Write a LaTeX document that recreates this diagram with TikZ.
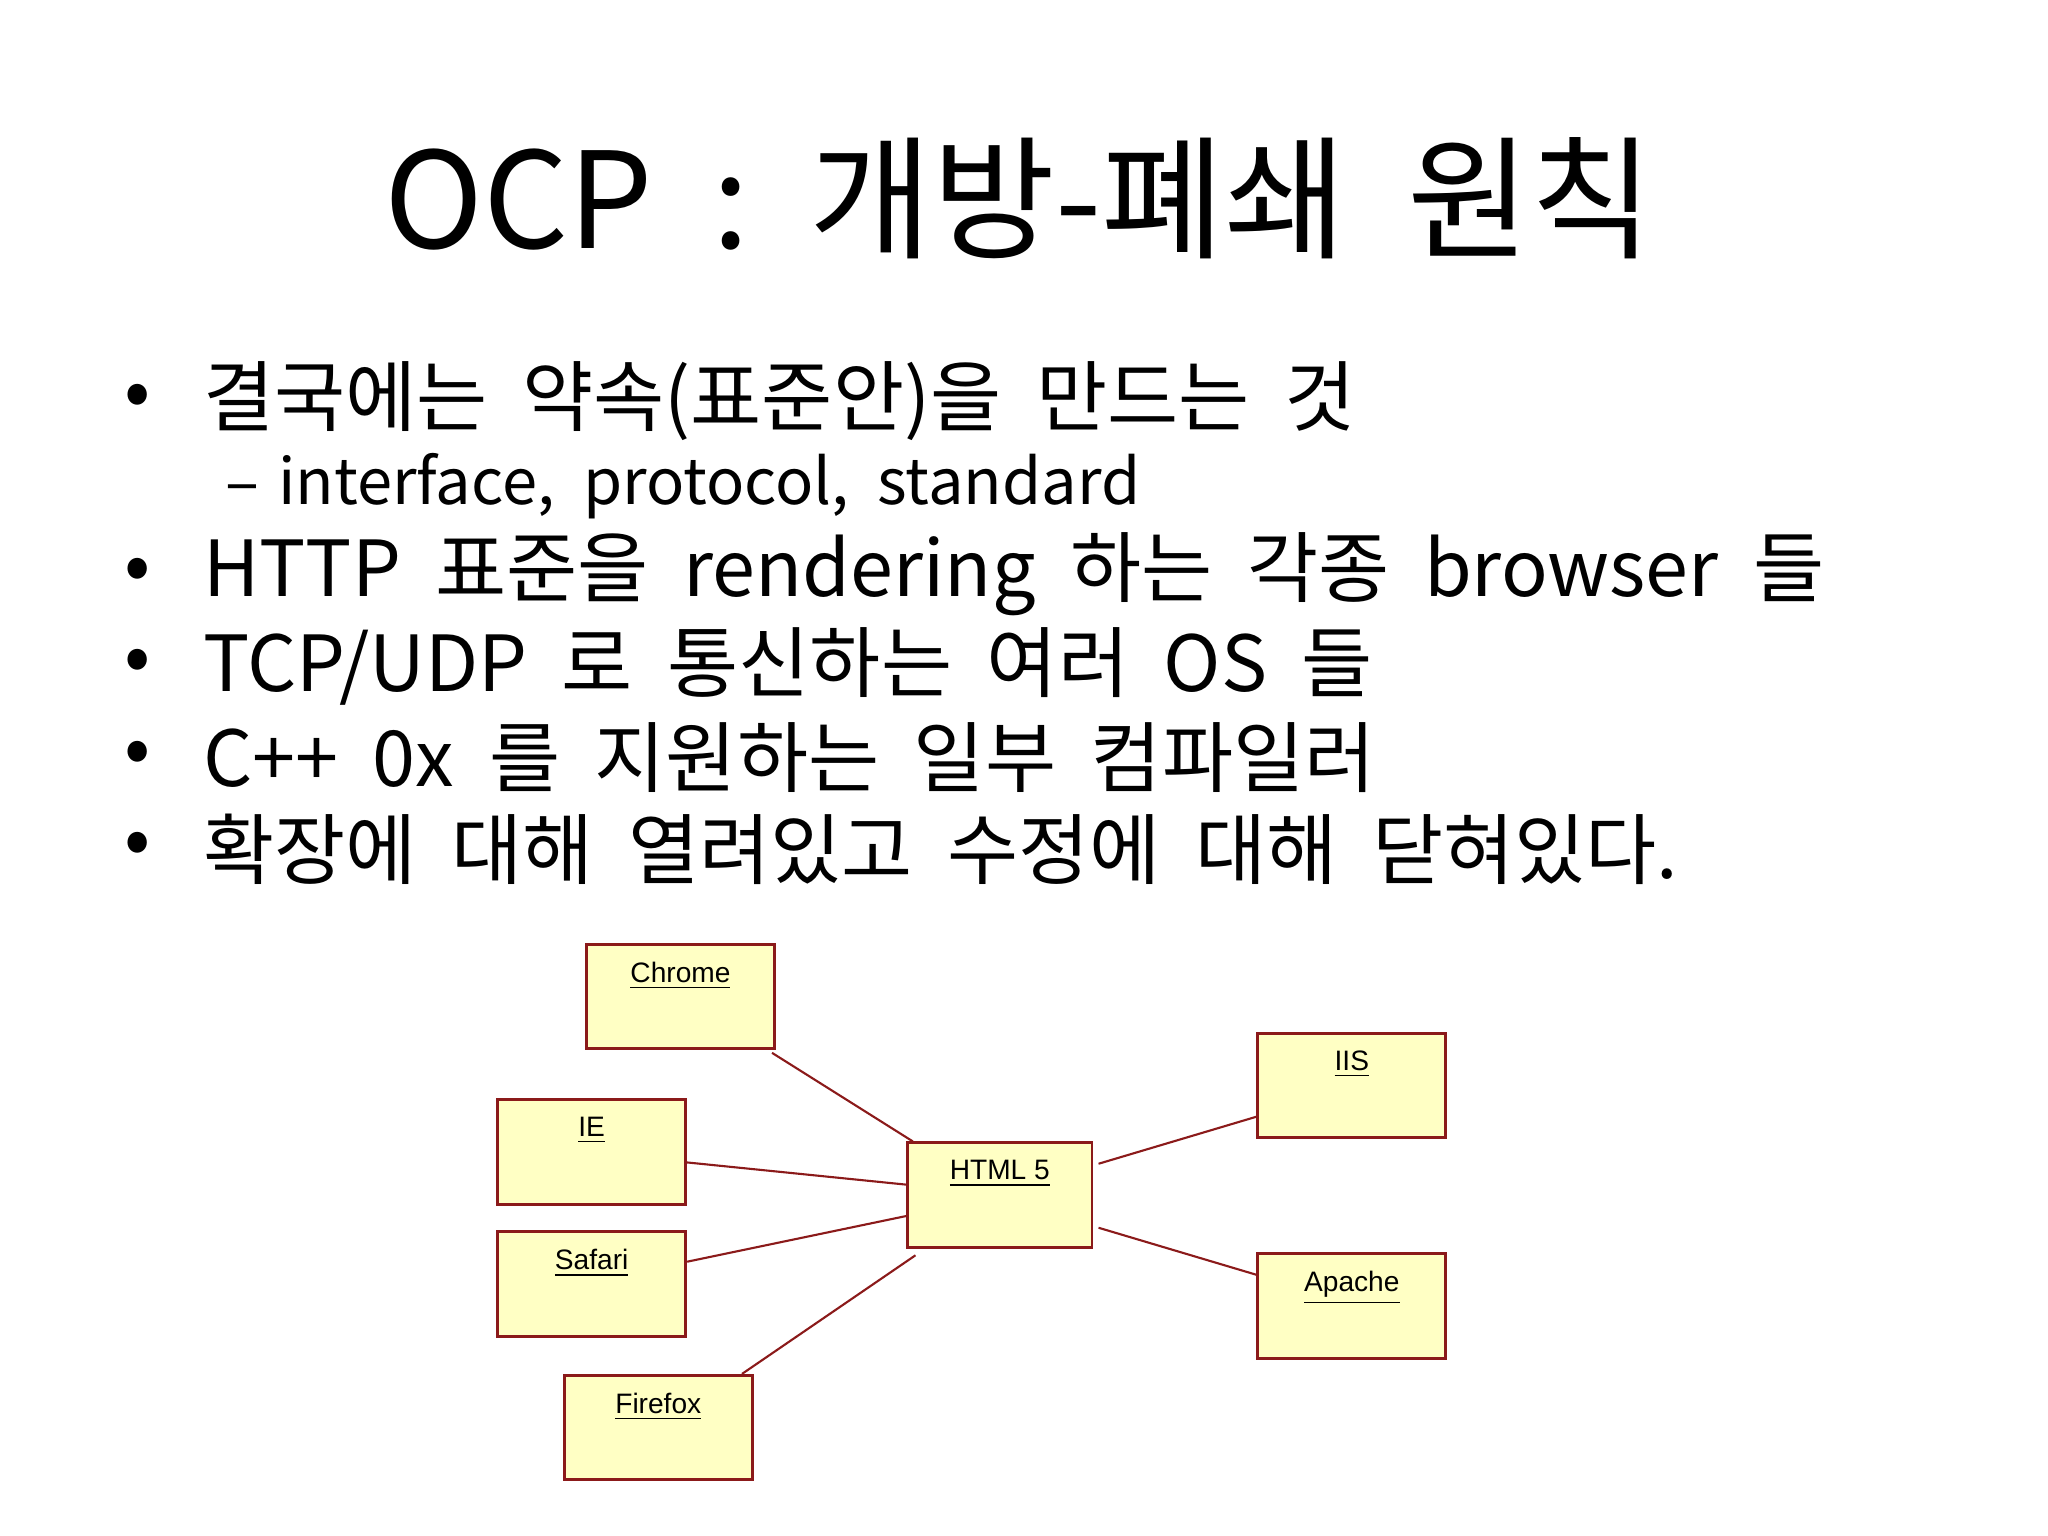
\documentclass[tikz,border=0pt]{standalone}
\usepackage{fontspec}
\setmainfont{Noto Sans CJK KR}[WordSpace={2.0,1,1}]
\newfontfamily\boxfont{Liberation Sans}
\usetikzlibrary{calc}
\definecolor{boxfill}{HTML}{FFFFC4}
\definecolor{boxline}{HTML}{8B1A1A}
\tikzset{
 ubox/.style={draw=boxline,fill=boxfill,line width=0.8pt,minimum width=144*0.01306cm,minimum height=80*0.01306cm,inner sep=0pt},
 ulab/.style={font=\boxfont\fontsize{8}{9}\selectfont,anchor=north,inner sep=0pt},
 conn/.style={draw=boxline,line width=0.6pt},
 btxt/.style={anchor=west,inner sep=0pt,font=\fontsize{22}{26}\selectfont},
 stxt/.style={anchor=west,inner sep=0pt,font=\fontsize{18}{22}\selectfont}
}
\begin{document}
\begin{tikzpicture}[x=0.01306cm,y=-0.01306cm]
\useasboundingbox (0,0) rectangle (1568,1176);
\node[inner sep=0pt,font=\fontsize{38}{44}\selectfont] (title) at (780,152) {OCP : 개방-폐쇄 원칙};
\foreach \y/\n in {307/b1,440/b2,510/b3,580/b4,650/b5}{\node[btxt] (\n dot) at (95,\y) {•};}
\node[btxt] (t1) at (155,307) {결국에는 약속(표준안)을 만드는 것};
\node[stxt] (t1s) at (172,372) {–\hspace{0.3em}interface, protocol, standard};
\node[btxt] (t2) at (155,440) {HTTP 표준을 rendering 하는 각종 browser 들};
\node[btxt] (t3) at (155,510) {TCP/UDP 로 통신하는 여러 OS 들};
\node[btxt] (t4) at (155,580) {C++ 0x 를 지원하는 일부 컴파일러};
\node[btxt] (t5) at (155,650) {확장에 대해 열려있고 수정에 대해 닫혀있다.};

\node[ubox] (chrome) at (521,763) {};
\node[ubox] (ie) at (453,882) {};
\node[ubox] (safari) at (453,983) {};
\node[ubox] (firefox) at (504,1093) {};
\node[ubox,minimum width=141*0.01306cm] (html) at (765.5,915) {};
\node[ubox] (iis) at (1035,831) {};
\node[ubox] (apache) at (1035,1000) {};
\foreach \b/\t in {chrome/Chrome,ie/IE,safari/Safari,firefox/Firefox,html/HTML 5,iis/IIS,apache/Apache}{
 \node[ulab] (\b lab) at ($(\b.north)+(0,14)$) {\underline{\t}};}

\draw[conn] ($(chrome.south east)+(-3,2)$) -- ($(html.north west)+(5,0)$);
\draw[conn] ($(ie.east)+(0,8)$) -- ($(html.west)+(0,-8)$);
\draw[conn] ($(safari.east)+(0,-17)$) -- ($(html.west)+(0,16)$);
\draw[conn] ($(firefox.north east)+(-9,0)$) -- ($(html.south west)+(7,5)$);
\draw[conn] ($(html.east)+(4,-24)$) -- ($(iis.west)+(0,24)$);
\draw[conn] ($(html.east)+(4,25)$) -- ($(apache.west)+(0,-24)$);
\end{tikzpicture}
\end{document}
